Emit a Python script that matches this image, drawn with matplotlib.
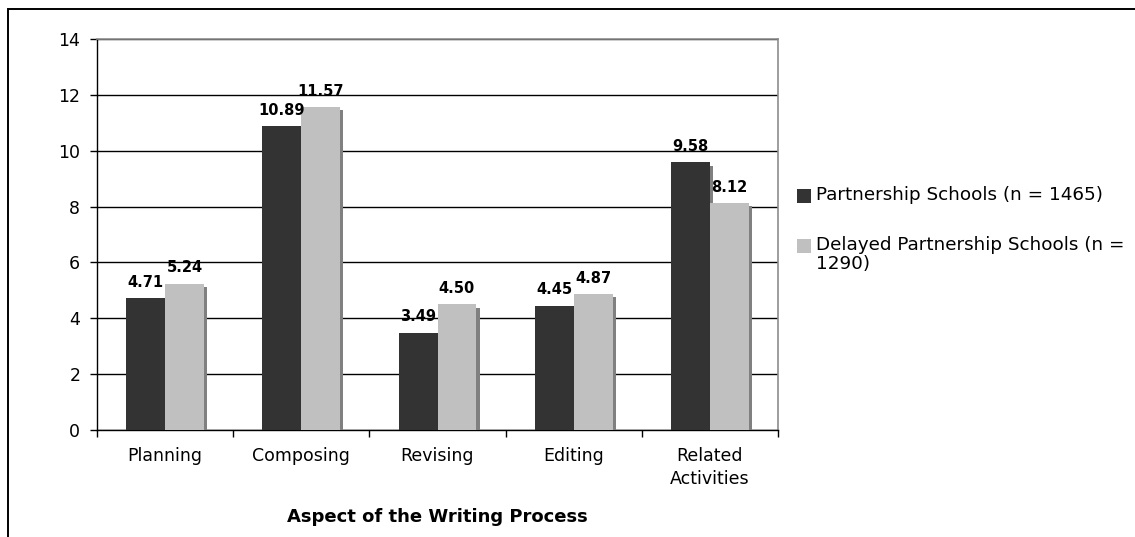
import matplotlib
matplotlib.use("Agg")
import matplotlib.pyplot as plt
import matplotlib.patheffects as pe
from matplotlib.patches import Rectangle
import numpy as np

categories = ["Planning", "Composing", "Revising", "Editing", "Related\nActivities"]
partnership = [4.71, 10.89, 3.49, 4.45, 9.58]
delayed = [5.24, 11.57, 4.50, 4.87, 8.12]
series_labels = ["Partnership Schools (n = 1465)",
                 "Delayed Partnership Schools (n =\n1290)"]
y_ticks = [0, 2, 4, 6, 8, 10, 12, 14]
x_title = "Aspect of the Writing Process"

plt.rcParams["font.family"] = ["DejaVu Sans"]

W, H = 1135, 537
fig = plt.figure(figsize=(W / 100, H / 100), dpi=100)

# outer chart frame
fig.patches.append(Rectangle((8 / W, -0.05), 1.1, (H - 9) / H + 0.05,
                             transform=fig.transFigure, fill=False,
                             edgecolor="black", linewidth=1.4))

ax = fig.add_axes([97 / W, (H - 430) / H, (778 - 97) / W, (430 - 39) / H])

x = np.arange(len(categories))
bw = 0.285
dark = "#333333"
light = "#C0C0C0"
shadow = [pe.SimplePatchShadow(offset=(2.3, -2.3), shadow_rgbFace="#808080", alpha=1.0),
          pe.Normal()]

b1 = ax.bar(x - bw / 2, partnership, bw, color=dark, zorder=3, path_effects=shadow)
b2 = ax.bar(x + bw / 2, delayed, bw, color=light, zorder=4, path_effects=shadow)

for rects, vals in ((b1, partnership), (b2, delayed)):
    for r, v in zip(rects, vals):
        ax.annotate(f"{v:.2f}", (r.get_x() + r.get_width() / 2, v),
                    xytext=(0, 6), textcoords="offset points",
                    ha="center", va="bottom", fontsize=10.5, fontweight="bold",
                    zorder=6)

ax.set_xlim(-0.5, len(categories) - 0.5)
ax.set_ylim(0, 14)
ax.set_yticks(y_ticks)
ax.yaxis.grid(True, color="black", linewidth=1.0, zorder=0)
ax.set_axisbelow(True)

ax.set_xticks(x)
ax.set_xticklabels(categories, fontsize=12.5, linespacing=1.4)
ax.set_xticks(np.arange(-0.5, len(categories)), minor=True)
ax.tick_params(axis="x", which="major", length=0, pad=12)
ax.tick_params(axis="x", which="minor", length=5, width=1, direction="out")
ax.tick_params(axis="y", length=5, width=1, direction="out", pad=7, labelsize=12.5)

for side in ("top", "right"):
    ax.spines[side].set_color("#8c8c8c")
    ax.spines[side].set_linewidth(1.2)
for side in ("left", "bottom"):
    ax.spines[side].set_color("black")
    ax.spines[side].set_linewidth(1.0)

# axis title centred under the plot area
fig.text((97 + 778) / 2 / W, (H - 517) / H, x_title, fontsize=13, fontweight="bold",
         ha="center", va="center")

# legend drawn in figure pixels
sq = 14
entries = [(196, dark), (246, light)]
for (yc, col), lab in zip(entries, series_labels):
    fig.patches.append(Rectangle((797 / W, (H - yc - sq / 2) / H), sq / W, sq / H,
                                 transform=fig.transFigure, facecolor=col,
                                 edgecolor="none"))
    fig.text(816 / W, (H - yc + 10) / H, lab, fontsize=13.2, ha="left", va="top",
             linespacing=1.1)

fig.savefig("out.png", dpi=100)
